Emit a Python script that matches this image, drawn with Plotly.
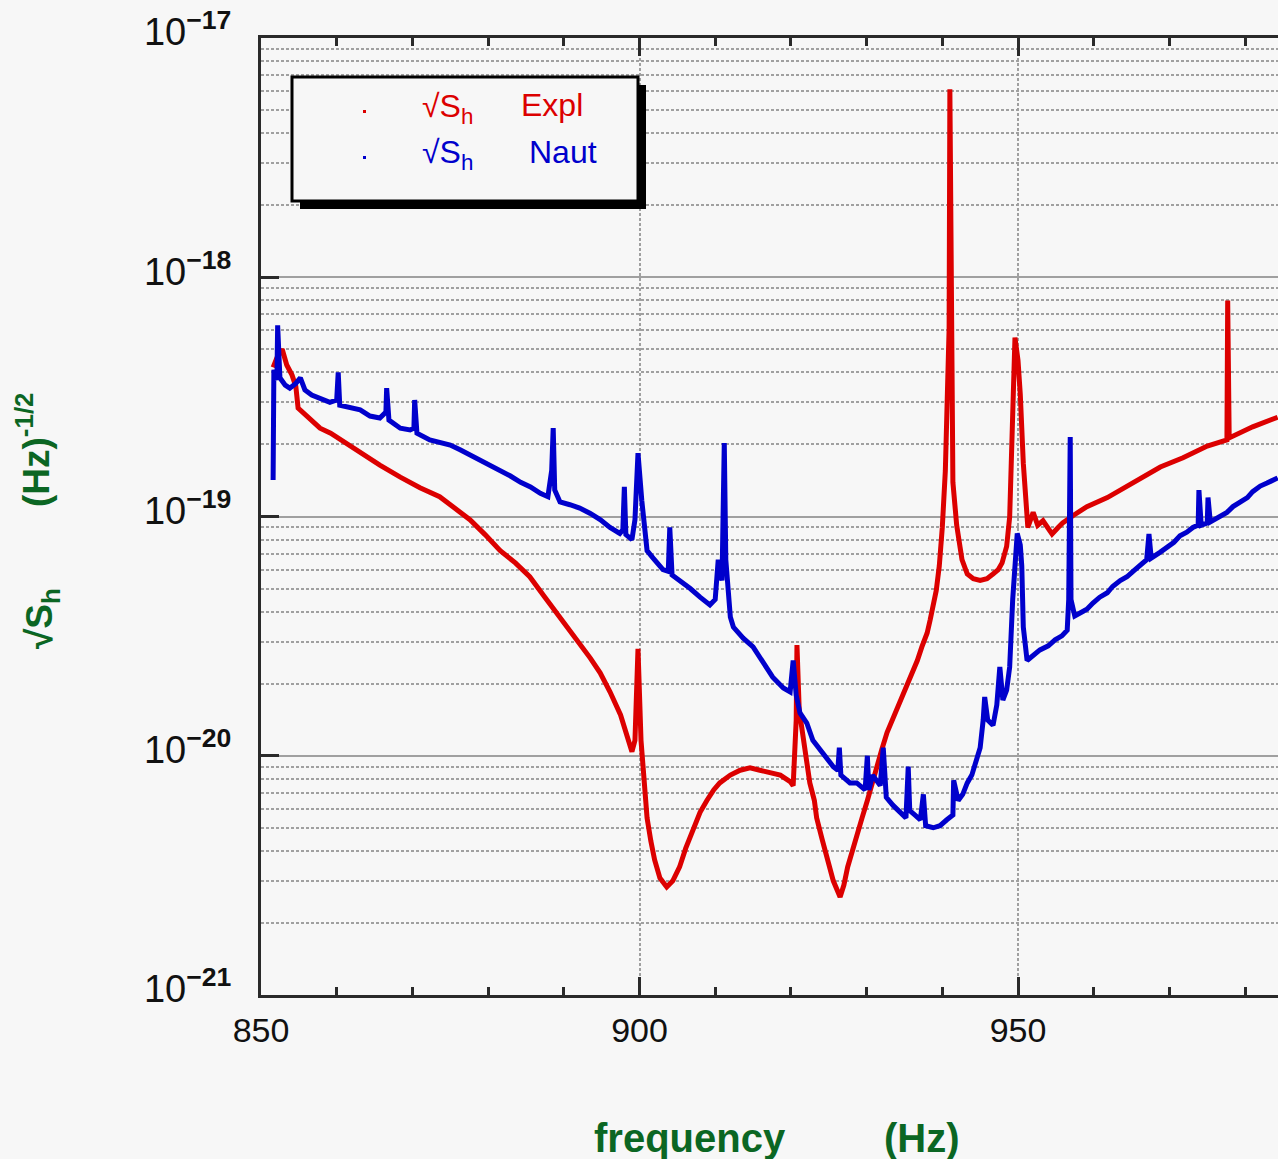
import plotly.graph_objects as go

# ---------------- data ----------------
freq_expl = [851.6, 852.1, 852.8, 853.4, 854.1, 854.6, 854.9, 856.5, 857.8, 859.2,
             861.1, 863.1, 865.7, 868.4, 871.0, 873.6, 875.6, 877.6, 879.6, 881.6,
             883.6, 885.5, 887.5, 889.5, 891.5, 893.5, 894.8, 896.1, 897.5, 898.5,
             899.0, 899.4, 899.8, 900.2, 900.6, 901.0, 901.5, 902.0, 902.7, 903.6,
             904.4, 905.3, 906.1, 907.1, 908.0, 908.9, 909.8, 910.6, 912.0, 913.3,
             914.6, 915.9, 917.2, 918.6, 919.9, 920.3, 920.7, 920.8, 921.1, 921.5,
             922.0, 922.5, 923.1, 923.4, 924.1, 924.8, 925.6, 926.5, 927.0, 927.5,
             928.1, 928.7, 929.4, 930.1, 930.7, 931.4, 932.0, 932.7, 933.4, 934.0,
             934.7, 935.3, 936.0, 936.7, 937.3, 938.0, 938.4, 938.8, 939.2, 939.6,
             940.0, 940.4, 940.6, 940.9, 941.0, 941.2, 941.4, 941.9, 942.6, 943.3,
             944.1, 945.0, 945.9, 946.7, 947.4, 947.9, 948.5, 948.9, 949.2, 949.6,
             950.0, 950.3, 950.7, 951.1, 951.3, 952.0, 952.6, 953.3, 954.0, 954.5,
             955.3, 955.9, 957.3, 959.1, 961.8, 965.2, 968.8, 971.8, 975.0, 977.6,
             977.7, 977.9, 981.0, 984.3]
asd_expl = [4.2e-19, 4.6e-19, 5.0e-19, 4.3e-19, 3.9e-19, 3.5e-19, 2.84e-19, 2.53e-19, 2.34e-19, 2.23e-19,
            2.03e-19, 1.84e-19, 1.64e-19, 1.46e-19, 1.32e-19, 1.21e-19, 1.085e-19, 9.7e-20, 8.4e-20, 7.2e-20,
            6.4e-20, 5.6e-20, 4.6e-20, 3.8e-20, 3.1e-20, 2.56e-20, 2.22e-20, 1.85e-20, 1.48e-20, 1.19e-20,
            1.04e-20, 1.16e-20, 2.8e-20, 1.16e-20, 7.9e-21, 5.5e-21, 4.4e-21, 3.67e-21, 3.08e-21, 2.83e-21,
            3.0e-21, 3.43e-21, 4.1e-21, 5.0e-21, 5.8e-21, 6.5e-21, 7.2e-21, 7.7e-21, 8.3e-21, 8.7e-21,
            8.9e-21, 8.7e-21, 8.55e-21, 8.3e-21, 7.8e-21, 7.5e-21, 1.41e-20, 2.9e-20, 1.55e-20, 1.28e-20,
            9.6e-21, 7.7e-21, 6.5e-21, 5.5e-21, 4.5e-21, 3.77e-21, 3.0e-21, 2.57e-21, 2.88e-21, 3.43e-21,
            4.0e-21, 4.75e-21, 5.5e-21, 6.5e-21, 7.7e-21, 9.0e-21, 1.06e-20, 1.25e-20, 1.41e-20, 1.6e-20,
            1.79e-20, 2.0e-20, 2.24e-20, 2.5e-20, 2.85e-20, 3.26e-20, 3.7e-20, 4.2e-20, 4.9e-20, 6.2e-20,
            9.0e-20, 1.55e-19, 3.25e-19, 6.1e-19, 6.1e-18, 6.0e-19, 1.39e-19, 9.2e-20, 6.6e-20, 5.75e-20,
            5.5e-20, 5.4e-20, 5.5e-20, 5.75e-20, 6.0e-20, 6.4e-20, 7.5e-20, 9.95e-20, 2.23e-19, 5.6e-19,
            4.5e-19, 3.25e-19, 1.67e-19, 1.0e-19, 9.0e-20, 1.04e-19, 9.2e-20, 9.6e-20, 8.8e-20, 8.45e-20,
            9.0e-20, 9.4e-20, 1.01e-19, 1.10e-19, 1.20e-19, 1.39e-19, 1.61e-19, 1.76e-19, 1.97e-19, 2.09e-19,
            8.0e-19, 2.13e-19, 2.37e-19, 2.6e-19]

freq_naut = [851.6, 851.7, 852.1, 852.2, 852.5, 853.2, 853.8, 854.6, 855.2, 855.8,
             856.7, 857.8, 859.1, 860.0, 860.2, 860.4, 861.8, 863.1, 864.4, 865.7,
             866.5, 866.6, 866.9, 868.4, 869.7, 870.2, 870.3, 870.6, 872.3, 873.6,
             875.0, 876.3, 877.6, 878.9, 880.3, 881.6, 882.9, 884.3, 885.6, 886.9,
             887.9, 888.4, 888.6, 888.8, 889.5, 890.8, 892.1, 893.5, 894.8, 896.1,
             897.4, 897.8, 898.0, 898.2, 899.0, 899.4, 899.8, 900.3, 901.0, 901.8,
             903.1, 903.8, 904.0, 904.3, 905.4, 906.7, 908.0, 909.3, 910.0, 910.4,
             910.9, 911.2, 911.4, 912.0, 912.4, 913.7, 915.0, 916.3, 917.6, 919.0,
             919.9, 920.3, 920.7, 921.2, 922.1, 922.9, 924.2, 925.6, 926.2, 926.4,
             926.6, 927.8, 928.7, 929.8, 930.1, 930.3, 930.8, 931.8, 932.2, 932.6,
             933.5, 934.4, 935.2, 935.5, 935.7, 936.4, 937.1, 937.5, 937.8, 938.8,
             939.7, 940.6, 941.4, 941.5, 942.1, 942.7, 943.3, 943.9, 944.6, 945.0,
             945.4, 945.6, 946.0, 946.7, 947.2, 947.6, 948.0, 948.5, 948.9, 949.3,
             949.9, 950.3, 950.5, 950.7, 951.2, 952.0, 952.9, 954.0, 954.9, 955.8,
             956.5, 956.7, 956.9, 957.0, 957.5, 958.5, 959.1, 959.9, 960.8, 961.8,
             962.5, 963.5, 964.4, 965.2, 966.1, 967.0, 967.3, 967.6, 968.8, 969.7,
             970.6, 971.4, 972.3, 973.1, 973.8, 973.9, 974.2, 975.0, 975.1, 975.4,
             976.7, 977.6, 978.4, 979.3, 980.3, 981.0, 982.0, 982.9, 984.3]
asd_naut = [1.42e-19, 4.1e-19, 3.72e-19, 6.3e-19, 3.8e-19, 3.54e-19, 3.44e-19, 3.6e-19, 3.8e-19, 3.38e-19,
            3.22e-19, 3.13e-19, 3.0e-19, 3.07e-19, 4.0e-19, 2.92e-19, 2.84e-19, 2.79e-19, 2.63e-19, 2.58e-19,
            2.73e-19, 3.44e-19, 2.53e-19, 2.34e-19, 2.3e-19, 2.34e-19, 3.07e-19, 2.23e-19, 2.09e-19, 2.05e-19,
            1.99e-19, 1.9e-19, 1.81e-19, 1.72e-19, 1.64e-19, 1.56e-19, 1.48e-19, 1.39e-19, 1.33e-19, 1.25e-19,
            1.21e-19, 1.56e-19, 2.34e-19, 1.29e-19, 1.15e-19, 1.12e-19, 1.085e-19, 1.03e-19, 9.7e-20, 9.0e-20,
            8.5e-20, 8.8e-20, 1.33e-19, 8.4e-20, 8.0e-20, 9.7e-20, 1.84e-19, 1.17e-19, 7.2e-20, 6.7e-20,
            6.0e-20, 5.9e-20, 9.0e-20, 5.7e-20, 5.4e-20, 5.0e-20, 4.6e-20, 4.27e-20, 4.5e-20, 6.6e-20,
            5.4e-20, 2.03e-19, 6.6e-20, 3.8e-20, 3.45e-20, 3.1e-20, 2.85e-20, 2.44e-20, 2.13e-20, 1.92e-20,
            1.85e-20, 2.5e-20, 1.79e-20, 1.51e-20, 1.37e-20, 1.16e-20, 1.03e-20, 9.0e-21, 8.7e-21, 1.08e-20,
            8.3e-21, 7.7e-21, 7.7e-21, 7.2e-21, 1.0e-20, 7.2e-21, 8.3e-21, 7.5e-21, 1.08e-20, 6.7e-21,
            6.2e-21, 5.8e-21, 5.5e-21, 9.0e-21, 5.9e-21, 5.65e-21, 5.4e-21, 6.9e-21, 5.1e-21, 5.0e-21,
            5.1e-21, 5.4e-21, 5.65e-21, 7.9e-21, 6.5e-21, 6.9e-21, 7.7e-21, 8.3e-21, 9.6e-21, 1.08e-20,
            1.41e-20, 1.76e-20, 1.41e-20, 1.34e-20, 1.63e-20, 2.35e-20, 1.71e-20, 1.88e-20, 2.35e-20, 4.5e-20,
            8.5e-20, 7.6e-20, 6.2e-20, 3.45e-20, 2.5e-20, 2.64e-20, 2.77e-20, 2.88e-20, 3.05e-20, 3.17e-20,
            3.35e-20, 4.5e-20, 2.15e-19, 4.5e-20, 3.84e-20, 4.0e-20, 4.1e-20, 4.35e-20, 4.6e-20, 4.8e-20,
            5.1e-20, 5.4e-20, 5.6e-20, 5.9e-20, 6.2e-20, 6.6e-20, 8.45e-20, 6.7e-20, 7.1e-20, 7.4e-20,
            7.8e-20, 8.3e-20, 8.6e-20, 9.0e-20, 9.2e-20, 1.29e-19, 9.2e-20, 9.4e-20, 1.2e-19, 9.5e-20,
            1.0e-19, 1.04e-19, 1.10e-19, 1.15e-19, 1.2e-19, 1.27e-19, 1.34e-19, 1.38e-19, 1.45e-19]

x_tick_vals = [850, 900, 950]
x_tick_text = ["850", "900", "950"]
y_tick_vals = [1e-21, 1e-20, 1e-19, 1e-18, 1e-17]
y_tick_text = ["10<sup><b>−21</b></sup>", "10<sup><b>−20</b></sup>", "10<sup><b>−19</b></sup>",
               "10<sup><b>−18</b></sup>", "10<sup><b>−17</b></sup>"]
series_names = ["Expl", "Naut"]

# ---------------- styling ----------------
W, H = 1278, 1159
L, R, T, B = 261, 0, 38, 164
BG = "#f7f7f7"
RED = "#dc0000"
BLUE = "#0000cc"
GREEN = "#0b6623"
FONT = "Liberation Sans"
AXC = "#2a2a2a"


def px(x):
    return (x - L) / (W - L - R)


def py(y):
    return (H - B - y) / (H - B - T)


fig = go.Figure()
fig.add_trace(go.Scatter(x=freq_expl, y=asd_expl, mode="lines", name=series_names[0],
                         line=dict(color=RED, width=5), showlegend=False))
fig.add_trace(go.Scatter(x=freq_naut, y=asd_naut, mode="lines", name=series_names[1],
                         line=dict(color=BLUE, width=5), showlegend=False))

fig.update_layout(
    width=W, height=H,
    margin=dict(l=L, r=R, t=T, b=B, pad=0),
    paper_bgcolor=BG, plot_bgcolor=BG,
    font=dict(family=FONT, color="black"),
    showlegend=False,
)

fig.update_xaxes(
    range=[850, 850 + (W - L - R) / 7.57],
    tickmode="array", tickvals=x_tick_vals, ticktext=x_tick_text,
    tickfont=dict(size=34, family=FONT, color="#111"),
    ticks="inside", ticklen=18, tickwidth=3, tickcolor=AXC,
    ticklabelstandoff=3,
    showline=True, linecolor=AXC, linewidth=3, mirror="ticks",
    showgrid=True, gridcolor="#a0a0a0", gridwidth=2, griddash="3px,2px",
    zeroline=False,
    minor=dict(dtick=10, ticks="inside", ticklen=8, tickwidth=3, tickcolor=AXC, showgrid=False),
)

fig.update_yaxes(
    type="log", range=[-21, -17],
    tickmode="array", tickvals=y_tick_vals, ticktext=y_tick_text,
    tickfont=dict(size=38, family=FONT, color="#111"),
    ticks="inside", ticklen=18, tickwidth=3, tickcolor=AXC,
    ticklabelstandoff=19, ticklabelshift=-6,
    showline=True, linecolor=AXC, linewidth=3, mirror=False,
    showgrid=True, gridcolor="#a0a0a0", gridwidth=2,
    zeroline=False,
    minor=dict(dtick="D1", ticks="", showgrid=True, gridcolor="#a0a0a0",
               gridwidth=2, griddash="3px,2px"),
)

shapes = [
    # legend shadow
    dict(type="rect", xref="paper", yref="paper", x0=px(300), x1=px(646), y0=py(209), y1=py(85),
         fillcolor="black", line=dict(width=0), layer="above"),
    # legend box
    dict(type="rect", xref="paper", yref="paper", x0=px(292), x1=px(638), y0=py(201), y1=py(77),
         fillcolor=BG, line=dict(color="black", width=3), layer="above"),
    # legend markers
    dict(type="rect", xref="paper", yref="paper", x0=px(363), x1=px(366), y0=py(113), y1=py(110),
         fillcolor=RED, line=dict(width=0), layer="above"),
    dict(type="rect", xref="paper", yref="paper", x0=px(363), x1=px(366), y0=py(159), y1=py(156),
         fillcolor=BLUE, line=dict(width=0), layer="above"),
]
fig.update_layout(shapes=shapes)

ann = []
# legend texts
ann.append(dict(x=px(420), y=py(108), xref="paper", yref="paper", xanchor="left", yanchor="middle",
                text="√S<sub>h</sub>", showarrow=False, font=dict(size=32, color=RED, family=FONT)))
ann.append(dict(x=px(519), y=py(105), xref="paper", yref="paper", xanchor="left", yanchor="middle",
                text=series_names[0], showarrow=False, font=dict(size=32, color=RED, family=FONT)))
ann.append(dict(x=px(420), y=py(154), xref="paper", yref="paper", xanchor="left", yanchor="middle",
                text="√S<sub>h</sub>", showarrow=False, font=dict(size=32, color=BLUE, family=FONT)))
ann.append(dict(x=px(527), y=py(152), xref="paper", yref="paper", xanchor="left", yanchor="middle",
                text=series_names[1], showarrow=False, font=dict(size=32, color=BLUE, family=FONT)))
# x title
ann.append(dict(x=px(592), y=py(1138), xref="paper", yref="paper", xanchor="left", yanchor="middle",
                text="<b>frequency</b>", showarrow=False, font=dict(size=40, color=GREEN, family=FONT)))
ann.append(dict(x=px(882), y=py(1138), xref="paper", yref="paper", xanchor="left", yanchor="middle",
                text="<b>(Hz)</b>", showarrow=False, font=dict(size=40, color=GREEN, family=FONT)))
# y title
ann.append(dict(x=px(33), y=py(450), xref="paper", yref="paper", xanchor="center", yanchor="middle",
                text="<b>(Hz)<sup>-1/2</sup></b>", textangle=-90, showarrow=False,
                font=dict(size=37, color=GREEN, family=FONT)))
ann.append(dict(x=px(42), y=py(619), xref="paper", yref="paper", xanchor="center", yanchor="middle",
                text="<b>√S<sub>h</sub></b>", textangle=-90, showarrow=False,
                font=dict(size=37, color=GREEN, family=FONT)))
fig.update_layout(annotations=ann)

fig.write_html("out.html")
